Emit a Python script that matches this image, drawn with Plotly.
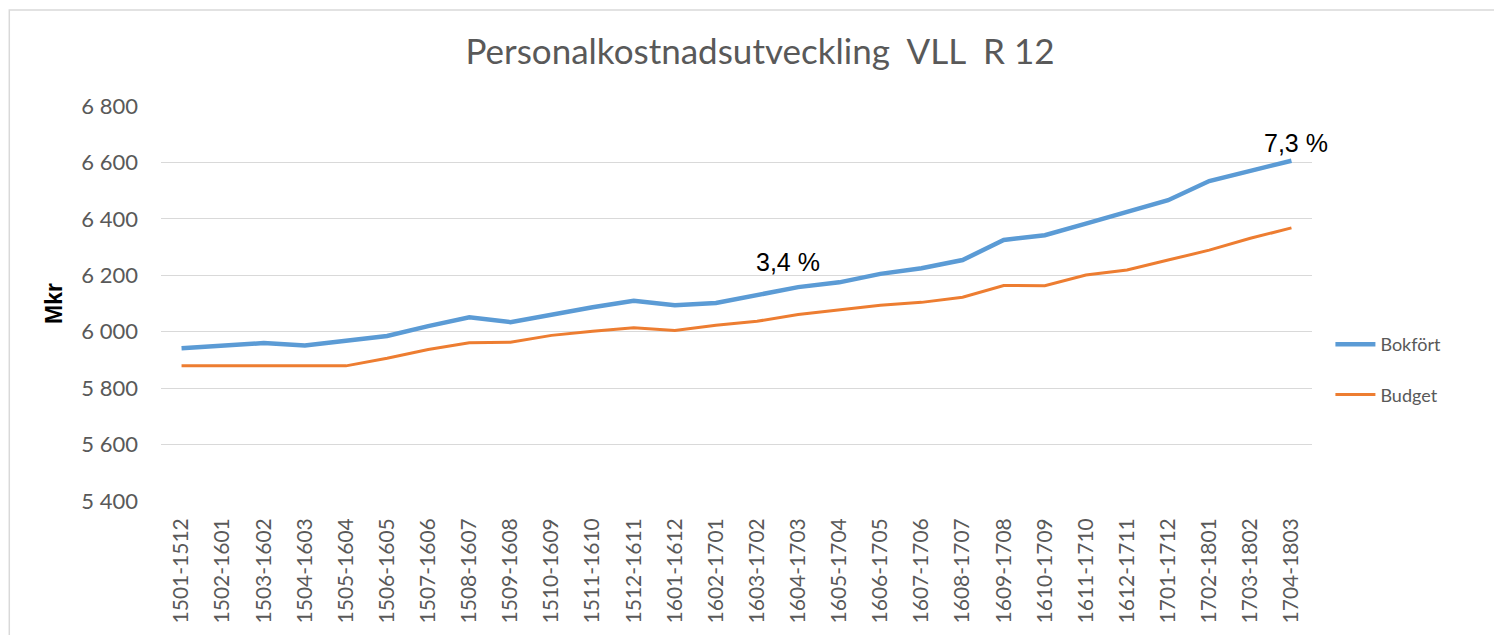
"""Personalkostnadsutveckling VLL, rullande 12 månader."""

import plotly.graph_objects as go

# ── Data ──────────────────────────────────────────────────────────────────────
PERIODS = [
    "1501-1512", "1502-1601", "1503-1602", "1504-1603", "1505-1604",
    "1506-1605", "1507-1606", "1508-1607", "1509-1608", "1510-1609",
    "1511-1610", "1512-1611", "1601-1612", "1602-1701", "1603-1702",
    "1604-1703", "1605-1704", "1606-1705", "1607-1706", "1608-1707",
    "1609-1708", "1610-1709", "1611-1710", "1612-1711", "1701-1712",
    "1702-1801", "1703-1802", "1704-1803",
]

BOKFORT = [
    5941, 5949, 5960, 5951, 5967, 5985, 6020, 6051, 6034, 6061,
    6087, 6110, 6094, 6102, 6129, 6158, 6175, 6205, 6225, 6254,
    6325, 6342, 6383, 6425, 6466, 6534, 6571, 6606,
]

BUDGET = [
    5879, 5879, 5879, 5879, 5879, 5906, 5937, 5961, 5963, 5987,
    6002, 6014, 6004, 6023, 6037, 6061, 6078, 6094, 6104, 6122,
    6164, 6163, 6201, 6219, 6254, 6289, 6331, 6368,
]

GROWTH_LABELS = ["3,4 %", "7,3 %"]

Y_TICKS = [5400, 5600, 5800, 6000, 6200, 6400, 6600, 6800]

# ── Style ─────────────────────────────────────────────────────────────────────
_BLUE = "#5b9bd5"
_ORANGE = "#ed7d31"
_GREY_TEXT = "#595959"
_GRID = "#d9d9d9"
_FONT = "Lato, Open Sans, sans-serif"
_ARIAL = "Liberation Sans, Arial, sans-serif"

# page body keeps its default 8px margin, so the figure is 16px smaller
W, H = 1486, 627

fig = go.Figure()
fig.add_trace(
    go.Scatter(
        x=PERIODS,
        y=BOKFORT,
        name="Bokfört",
        mode="lines",
        line={"color": _BLUE, "width": 4.5},
        legendgroup="a",
    )
)
fig.add_trace(
    go.Scatter(
        x=PERIODS,
        y=BUDGET,
        name="Budget",
        mode="lines",
        line={"color": _ORANGE, "width": 3},
        legendgroup="b",
    )
)

# growth labels: mid-series and at the last point
fig.add_annotation(
    x=14.75, y=BOKFORT[15] + 90, text=GROWTH_LABELS[0], showarrow=False,
    font={"family": _ARIAL, "size": 25, "color": "#000000"},
)
fig.add_annotation(
    x=len(PERIODS) - 0.9, y=BOKFORT[-1] + 64, text=GROWTH_LABELS[1], showarrow=False,
    font={"family": _ARIAL, "size": 25, "color": "#000000"},
)

# thin chart-area frame (left and top edges visible)
fig.add_shape(
    type="rect", xref="paper", yref="paper",
    x0=-0.1318, x1=1.3, y0=-0.5, y1=1.243,
    line={"color": _GRID, "width": 1.5}, layer="below",
)

fig.update_layout(
    width=W,
    height=H,
    margin={"l": 153, "r": 182, "t": 98, "b": 128},
    paper_bgcolor="#ffffff",
    plot_bgcolor="#ffffff",
    separators=", ",
    font={"family": _FONT, "size": 20, "color": _GREY_TEXT},
    title={
        "text": "Personalkostnadsutveckling\u00a0\u00a0VLL\u00a0\u00a0R\u00a012",
        "x": 752 / W,
        "xref": "container",
        "xanchor": "center",
        "y": 1 - 44 / H,
        "yanchor": "middle",
        "font": {"family": _FONT, "size": 35, "color": _GREY_TEXT},
    },
    legend={
        "x": 1.016,
        "xanchor": "left",
        "y": 0.443,
        "yanchor": "top",
        "font": {"family": _FONT, "size": 18, "color": _GREY_TEXT},
        "tracegroupgap": 24,
        "itemwidth": 40,
        "bgcolor": "rgba(0,0,0,0)",
    },
    showlegend=True,
)

fig.update_xaxes(
    type="category",
    range=[-0.5, len(PERIODS) - 0.5],
    tickangle=-90,
    showgrid=False,
    showline=False,
    zeroline=False,
    ticks="",
    ticklabelstandoff=12,
    tickfont={"family": _FONT, "size": 21, "color": _GREY_TEXT},
)
fig.update_yaxes(
    range=[5400, 6800],
    tickvals=Y_TICKS,
    tickformat=",d",
    showgrid=True,
    gridcolor=_GRID,
    gridwidth=1.3,
    zeroline=False,
    showline=False,
    ticks="",
    ticklabelstandoff=22,
    tickfont={"family": _FONT, "size": 22, "color": _GREY_TEXT},
    title={
        "text": "<b>Mkr</b>",
        "standoff": 12,
        "font": {"family": _ARIAL, "size": 23, "color": "#000000"},
    },
)

fig.write_html("out.html")
